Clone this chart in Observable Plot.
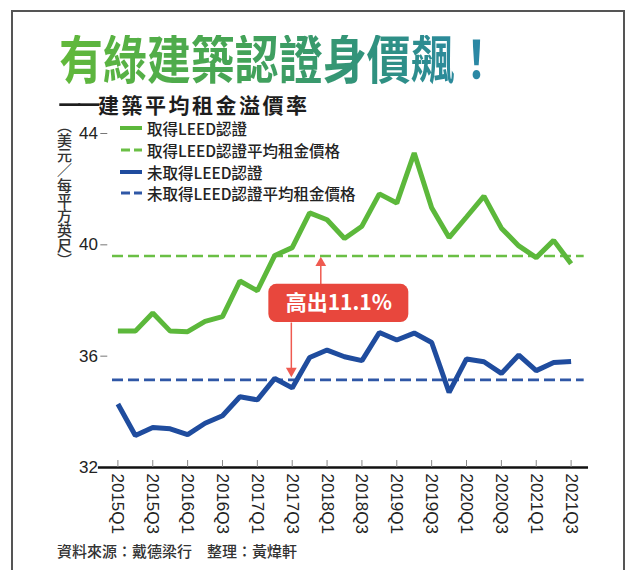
<!DOCTYPE html>
<html><head><meta charset="utf-8">
<script src="https://cdn.jsdelivr.net/npm/d3@7"></script>
<script src="https://cdn.jsdelivr.net/npm/@observablehq/plot@0.6"></script>
<style>
html,body{margin:0;padding:0;background:#fff;}
body{width:628px;height:570px;position:relative;overflow:hidden;font-family:"Noto Sans CJK TC","Noto Sans",sans-serif;}
#frame{position:absolute;left:11px;top:10px;width:614px;height:620px;border:2px solid #555;box-sizing:border-box;}
#chart{position:absolute;left:0;top:0;}
#title{position:absolute;left:59px;top:35px;font-family:"DejaVu Sans","Noto Sans CJK TC",sans-serif;font-size:52px;font-weight:700;line-height:52px;white-space:nowrap;transform:scaleX(0.845);transform-origin:0 0;
 background:linear-gradient(90deg,#62b93a 0%,#45a455 40%,#2f9180 72%,#2a86ac 100%);-webkit-background-clip:text;background-clip:text;color:transparent;}
#subtitle{position:absolute;left:58px;top:94px;font-family:"DejaVu Sans","Noto Sans CJK TC",sans-serif;font-size:21px;font-weight:700;line-height:24px;color:#1e1e1e;white-space:nowrap;}
#subtitle .d{display:inline-block;letter-spacing:-4px;transform:scaleX(1.12);transform-origin:0 50%;margin-right:6px;position:relative;top:-2px;}
#subtitle .t{letter-spacing:2.5px;}
#ylabel{position:absolute;left:55px;top:118px;writing-mode:vertical-rl;font-size:15px;line-height:18px;color:#333;font-weight:500;}
.lg{position:absolute;left:120px;height:20px;display:flex;align-items:center;font-size:15.5px;font-weight:500;color:#222;white-space:nowrap;}
.lg svg{margin-right:5px;}
#caption{position:absolute;left:57px;top:540px;font-size:15px;font-weight:500;color:#333;white-space:nowrap;}
</style></head>
<body>
<div id="frame"></div>
<div id="chart"></div>
<div id="title">有綠建築認證身價飆！</div>
<div id="subtitle"><span class="d">——</span><span class="t">建築平均租金溢價率</span></div>
<div id="ylabel">（美元／每平方英尺）</div>
<div id="legend"></div>
<div id="caption">資料來源：戴德梁行　整理：黃煒軒</div>
<script>
const quarters = ["2015Q1","2015Q2","2015Q3","2015Q4","2016Q1","2016Q2","2016Q3","2016Q4",
  "2017Q1","2017Q2","2017Q3","2017Q4","2018Q1","2018Q2","2018Q3","2018Q4",
  "2019Q1","2019Q2","2019Q3","2019Q4","2020Q1","2020Q2","2020Q3","2020Q4",
  "2021Q1","2021Q2","2021Q3"];
const leed = [36.9,36.9,37.55,36.9,36.88,37.25,37.42,38.7,38.35,39.62,39.9,41.15,40.9,40.23,40.67,41.83,
  41.5,43.3,41.33,40.26,41.0,41.75,40.6,39.96,39.54,40.16,39.32];
const nonLeed = [34.28,33.15,33.44,33.39,33.18,33.59,33.86,34.54,34.43,35.2,34.86,35.95,36.22,35.98,35.84,36.85,
  36.58,36.83,36.49,34.7,35.9,35.8,35.38,36.04,35.48,35.77,35.81];
const leedAvg = 39.6;
const nonLeedAvg = 35.15;
const yTicks = [32,36,40,44];
const xTickIdx = quarters.map((q,i)=>i).filter(i=>i%2===0);
const legendItems = [
  {label:"取得LEED認證", color:"#5cb83b", dash:false},
  {label:"取得LEED認證平均租金價格", color:"#6abf45", dash:true},
  {label:"未取得LEED認證", color:"#1f4c9e", dash:false},
  {label:"未取得LEED認證平均租金價格", color:"#2f57a6", dash:true}
];
const premium = "高出11.1%";

const GREEN = "#5cb83b", BLUE = "#1f4c9e", RED = "#e8473d", ARROW = "#ef5a50";
const data = quarters.map((q,i)=>({i, q, leed: leed[i], non: nonLeed[i]}));
const num = "Liberation Sans, Arial, sans-serif";

const chart = Plot.plot({
  width: 628, height: 570, margin: 0,
  style: {background: "transparent", overflow: "visible"},
  x: {type: "linear", domain: [0, 26], range: [117.4, 570.6], axis: null},
  y: {type: "linear", domain: [32, 44], range: [467, 133], axis: null},
  marks: [
    Plot.ruleY([leedAvg], {x1: -0.31, x2: 26.75, stroke: "#6abf45", strokeWidth: 2.6, strokeDasharray: "11,5"}),
    Plot.ruleY([nonLeedAvg], {x1: -0.31, x2: 26.75, stroke: "#2f57a6", strokeWidth: 2.6, strokeDasharray: "11,5"}),
    Plot.line(data, {x: "i", y: "leed", stroke: GREEN, strokeWidth: 5, strokeLinejoin: "miter", strokeLinecap: "butt"}),
    Plot.line(data, {x: "i", y: "non", stroke: BLUE, strokeWidth: 5, strokeLinejoin: "miter", strokeLinecap: "butt"}),
    // y ticks & labels
    Plot.ruleY(yTicks.filter(d => d > 32), {x1: -0.98, x2: -0.58, stroke: "#777", strokeWidth: 1}),
    Plot.text(yTicks, {x: -1.15, y: d => d, text: d => String(d), textAnchor: "end", fontSize: 17, fontFamily: num, fill: "#222"}),
    // x axis
    Plot.ruleY([32], {x1: -1.12, x2: 27.0, stroke: "#111", strokeWidth: 2.5}),
    Plot.ruleX(xTickIdx, {x: d => d, y1: 32, y2: 32.25, stroke: "#888", strokeWidth: 1}),
    Plot.text(xTickIdx, {x: d => d, y: 32, text: d => quarters[d], rotate: 90, textAnchor: "start", dy: 6, fontSize: 17, fontFamily: num, fill: "#222"}),
    // annotation
    Plot.link([0], {x1: 11.64, x2: 11.64, y1: 38.58, y2: 39.3, stroke: ARROW, strokeWidth: 1.5}),
    Plot.dot([0], {x: 11.64, y: 39.35, symbol: "triangle", r: 4, fill: ARROW, stroke: null}),
    Plot.link([0], {x1: 9.95, x2: 9.95, y1: 37.21, y2: 35.5, stroke: ARROW, strokeWidth: 1.5}),
    Plot.dot([0], {x: 9.95, y: 35.47, symbol: "triangle", r: 4, rotate: 180, fill: ARROW, stroke: null}),
    Plot.rect([0], {x1: 8.66, x2: 16.69, y1: 37.21, y2: 38.58, fill: RED, rx: 8}),
    Plot.text([premium], {x: 12.67, y: 37.9, text: d => d, fill: "white", fontSize: 21, fontWeight: 700, fontFamily: "Noto Sans CJK TC"})
  ]
});
document.getElementById("chart").appendChild(chart);

const lg = document.getElementById("legend");
const ys = [128, 150, 172, 193];
legendItems.forEach((d, k) => {
  const row = document.createElement("div");
  row.className = "lg";
  row.style.top = (ys[k] - 10) + "px";
  const sw = d.dash
    ? `<svg width="22" height="6"><line x1="1" x2="10" y1="3" y2="3" stroke="${d.color}" stroke-width="3"/><line x1="14" x2="22" y1="3" y2="3" stroke="${d.color}" stroke-width="3"/></svg>`
    : `<svg width="22" height="6"><line x1="0" x2="22" y1="3" y2="3" stroke="${d.color}" stroke-width="4"/></svg>`;
  row.innerHTML = sw + `<span>${d.label}</span>`;
  lg.appendChild(row);
});
</script>
</body></html>
